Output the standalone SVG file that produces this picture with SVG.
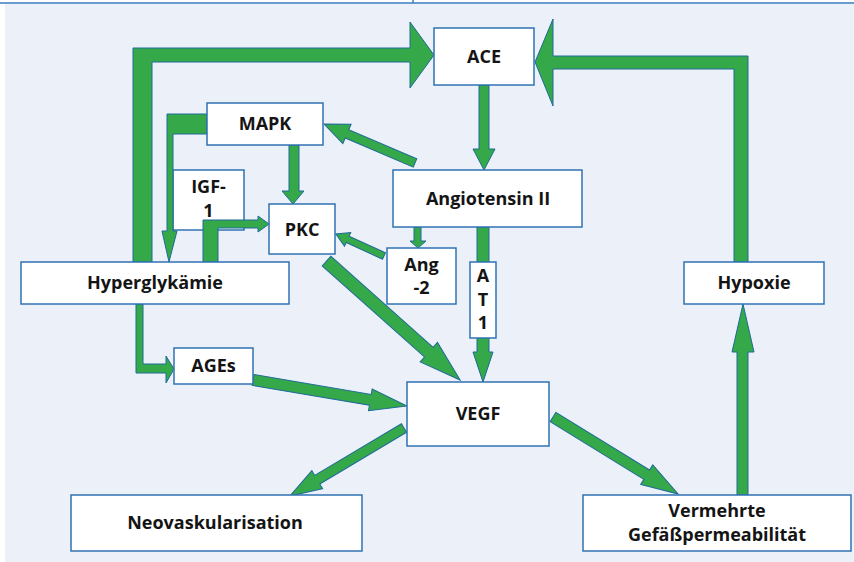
<svg xmlns="http://www.w3.org/2000/svg" width="854" height="562" viewBox="0 0 854 562">
<style>
.bx{fill:#ffffff;stroke:#2f72b2;stroke-width:1.5}
.ar{fill:#35a84a;stroke:#1e6a98;stroke-width:1;stroke-linejoin:miter}
.t{font-family:"Open Sans","Liberation Sans",sans-serif;font-weight:bold;font-size:18px;fill:#141414;text-anchor:middle}
</style>
<rect x="0" y="0" width="854" height="562" fill="#ffffff"/>
<rect x="5" y="4" width="849" height="558" fill="#ecf1f9"/>
<line x1="0" y1="3" x2="854" y2="3" stroke="#3a7bbd" stroke-width="1.5"/>
<line x1="413" y1="0" x2="413" y2="3" stroke="#3a7bbd" stroke-width="1.5"/>

<g id="node-igf1">
<rect class="bx" x="173" y="170" width="71" height="60"/>
<text class="t" x="208.5" y="193">IGF-</text>
<text class="t" x="208.5" y="217">1</text>
</g>

<g id="connectors">
<polygon class="ar" points="133,262 133,48 410,48 410,22 434,55 410,88 410,62 152,62 152,262"/>
<polygon class="ar" points="748,262 748,56 553,56 553,19 535,62 553,106 553,69 734,69 734,262"/>
<polygon class="ar" points="479,85 489,85 489,149 495,149 484,170 473,149 479,149"/>
<polygon class="ar" points="0,-4.5 74,-4.5 74,-10.5 99,0 74,10.5 74,4.5 0,4.5" transform="translate(415,163) rotate(203.2)"/>
<polygon class="ar" points="289,145 299,145 299,191 304,191 293,204 282,191 289,191"/>
<polygon class="ar" points="207,114 167,114 167,231 162,231 169,262 177,231 173,231 173,134 207,134"/>
<polygon class="ar" points="203,262 203,220 258,220 258,216 269,224 258,232 258,228 218,228 218,262"/>
<polygon class="ar" points="414,227 421,227 421,241 426,241 418,248 410,241 414,241"/>
<polygon class="ar" points="0,-3.5 40,-3.5 40,-7.5 53,0 40,7.5 40,3.5 0,3.5" transform="translate(384,256) rotate(204.6)"/>
<polygon class="ar" points="0,-6.5 137,-6.5 137,-13 179,0 137,13 137,6.5 0,6.5" transform="translate(326.5,261) rotate(41.7)"/>
<polygon class="ar" points="477,227 489,227 489,352 493,352 483,382 473,352 477,352"/>
<polygon class="ar" points="136,304 136,373 166,373 166,383 174,369 166,356 166,364 143,364 143,304"/>
<polygon class="ar" points="0,-5.5 119,-5.5 119,-11 156,0 119,11 119,5.5 0,5.5" transform="translate(253,380) rotate(9.6)"/>
<polygon class="ar" points="0,-5 101,-5 101,-10.5 133,0 101,10.5 101,5 0,5" transform="translate(404,428) rotate(149.2)"/>
<polygon class="ar" points="0,-5.5 110,-5.5 110,-11.5 147,0 110,11.5 110,5.5 0,5.5" transform="translate(553,417) rotate(31.6)"/>
<polygon class="ar" points="737,495 748,495 748,352 754,352 743,304 732,352 737,352"/>
</g>

<g id="node-ace">
<rect class="bx" x="434" y="28" width="100" height="57"/>
<text class="t" x="484" y="63">ACE</text>
</g>
<g id="node-angiotensin">
<rect class="bx" x="393" y="170" width="189" height="57"/>
<text class="t" x="488" y="205">Angiotensin II</text>
</g>
<g id="node-mapk">
<rect class="bx" x="207" y="103" width="116" height="42"/>
<text class="t" x="265" y="130">MAPK</text>
</g>
<g id="node-pkc">
<rect class="bx" x="269" y="204" width="66" height="50"/>
<text class="t" x="302" y="236">PKC</text>
</g>
<g id="node-ang2">
<rect class="bx" x="387" y="248" width="69" height="56"/>
<text class="t" x="421.5" y="271">Ang</text>
<text class="t" x="421.5" y="294">-2</text>
</g>
<g id="node-at1">
<rect class="bx" x="470" y="262" width="26" height="76"/>
<text class="t" x="483" y="282">A</text>
<text class="t" x="483" y="306">T</text>
<text class="t" x="483" y="329">1</text>
</g>
<g id="node-hyperglykaemie">
<rect class="bx" x="21" y="262" width="268" height="42"/>
<text class="t" x="155" y="289">Hyperglykämie</text>
</g>
<g id="node-hypoxie">
<rect class="bx" x="684" y="262" width="140" height="42"/>
<text class="t" x="754" y="289">Hypoxie</text>
</g>
<g id="node-ages">
<rect class="bx" x="174" y="348" width="79" height="36"/>
<text class="t" x="213.5" y="372">AGEs</text>
</g>
<g id="node-vegf">
<rect class="bx" x="407" y="382" width="142" height="64"/>
<text class="t" x="478" y="420">VEGF</text>
</g>
<g id="node-neovaskularisation">
<rect class="bx" x="71" y="495" width="291" height="56"/>
<text class="t" x="215" y="529">Neovaskularisation</text>
</g>
<g id="node-permeabilitaet">
<rect class="bx" x="583" y="495" width="268" height="56"/>
<text class="t" x="717" y="517">Vermehrte</text>
<text class="t" x="717" y="541">Gefäßpermeabilität</text>
</g>
</svg>
